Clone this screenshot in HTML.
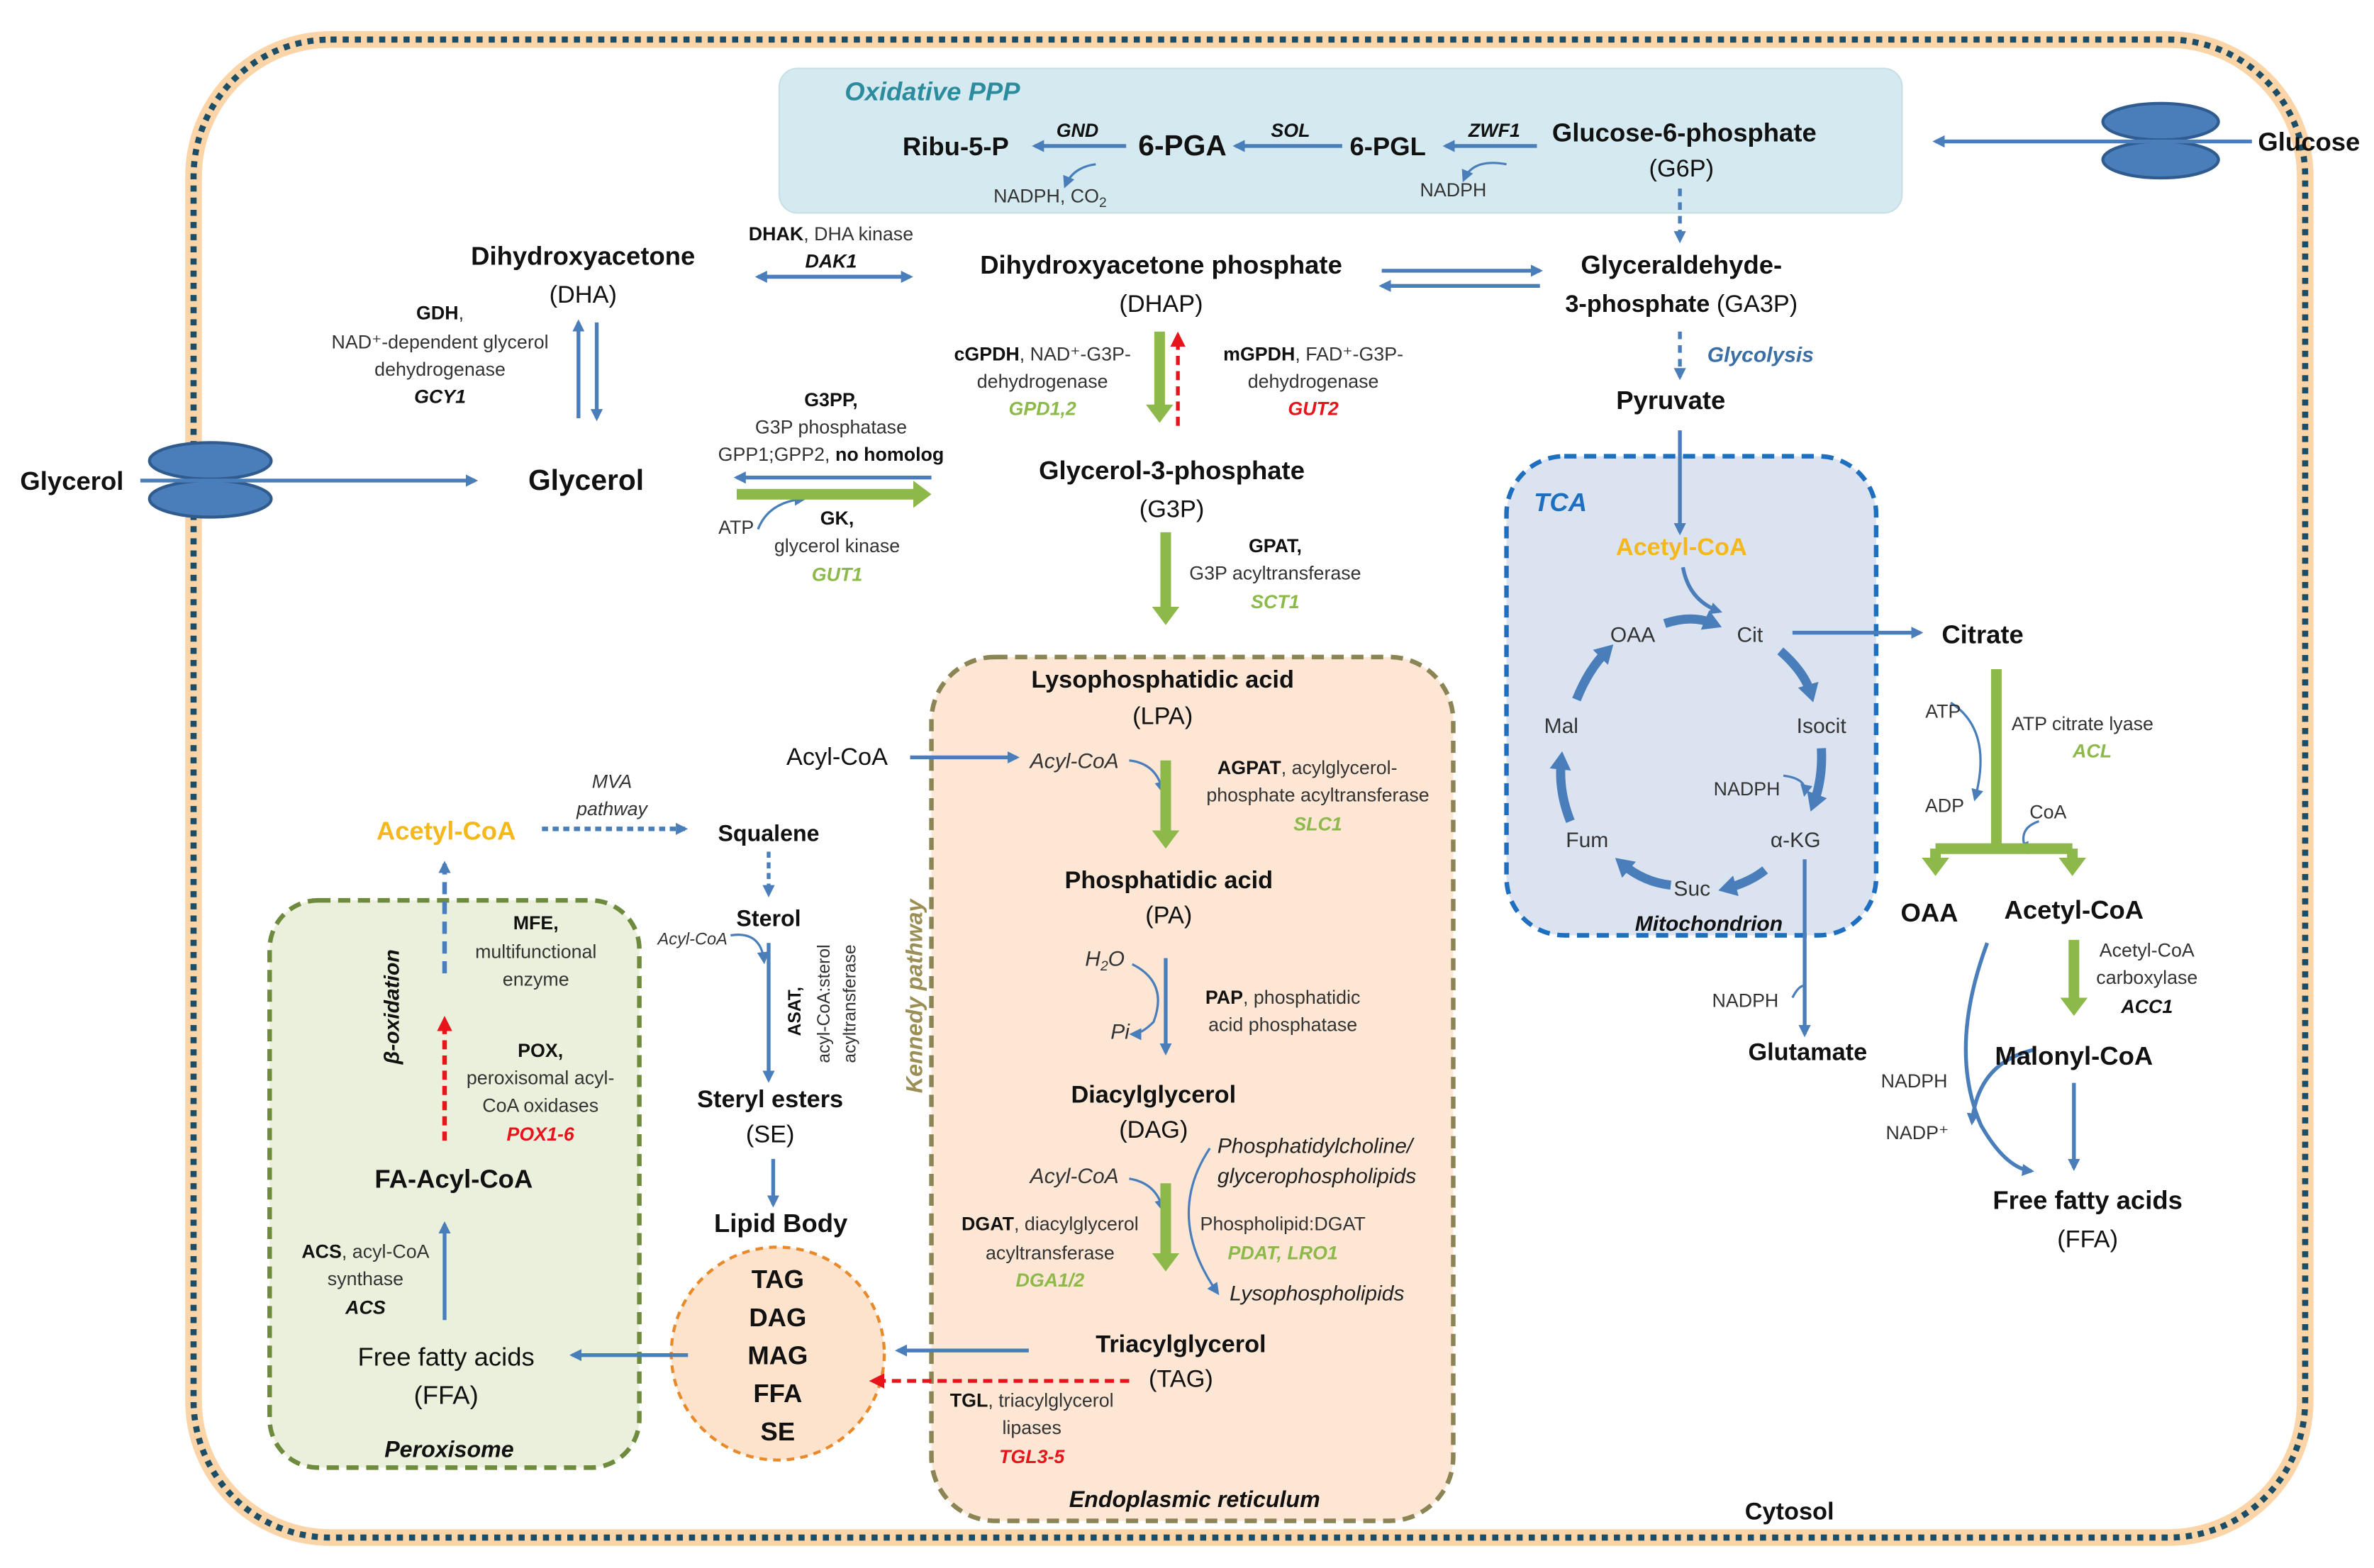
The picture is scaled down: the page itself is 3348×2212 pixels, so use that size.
<!DOCTYPE html>
<html><head><meta charset="utf-8"><style>
html,body{margin:0;padding:0;background:#fff}
svg{display:block}
text{font-family:"Liberation Sans",sans-serif;fill:#111}
.b{font-weight:bold}
.s{font-size:12.5px;fill:#333}
.m{font-size:16px}
.L{font-size:17px;font-weight:bold}
.i{font-style:italic}
.g{fill:#8db94a;font-weight:bold;font-style:italic;font-size:12.5px}
.r{fill:#e8141b;font-weight:bold;font-style:italic;font-size:12.5px}
.y{fill:#f5b81c;font-weight:bold}
</style></head><body>
<svg width="3348" height="2212" viewBox="0 0 1560 1031" xmlns="http://www.w3.org/2000/svg">
<defs>
<marker id="ab" markerWidth="8" markerHeight="8" refX="6" refY="4" orient="auto" markerUnits="userSpaceOnUse"><path d="M0,0 L8,4 L0,8 z" fill="#4a7ebb"/></marker>
<marker id="ag" markerWidth="18" markerHeight="18" refX="6" refY="9" orient="auto" markerUnits="userSpaceOnUse"><path d="M0,0 L12,9 L0,18 z" fill="#8db94a"/></marker>
<marker id="ar" markerWidth="10" markerHeight="10" refX="6" refY="5" orient="auto" markerUnits="userSpaceOnUse"><path d="M0,0 L10,5 L0,10 z" fill="#e8141b"/></marker>
<marker id="abb" markerWidth="14" markerHeight="14" refX="6" refY="7" orient="auto" markerUnits="userSpaceOnUse"><path d="M0,0 L12,7 L0,14 z" fill="#4a7ebb"/></marker>
</defs>
<!-- cell -->
<rect x="127" y="26" width="1388" height="985" rx="90" fill="none" stroke="#fbd5a8" stroke-width="11"/>
<rect x="127" y="26" width="1388" height="985" rx="90" fill="none" stroke="#1b4d66" stroke-width="4" stroke-dasharray="4,4"/>
<!-- boxes -->
<rect x="512" y="45" width="738" height="95" rx="12" fill="#d5eaf0" stroke="#c8dfe6"/>
<rect x="990" y="300" width="243" height="315" rx="38" fill="#dbe3f1" stroke="#1f6fc0" stroke-width="3" stroke-dasharray="8,5"/>
<rect x="612" y="432" width="343" height="568" rx="42" fill="#fde6d4" stroke="#8b8454" stroke-width="3" stroke-dasharray="8,5"/>
<rect x="177" y="592" width="243" height="373" rx="32" fill="#ebf0dc" stroke="#6e8b3d" stroke-width="3" stroke-dasharray="8,5"/>
<circle cx="511" cy="890" r="70" fill="#fde3cc" stroke="#e98a2a" stroke-width="2" stroke-dasharray="5,4"/>
<!-- transporters -->
<ellipse cx="1420" cy="80" rx="38" ry="12" fill="#4a7ebb" stroke="#2f5b8f" stroke-width="2"/>
<ellipse cx="1420" cy="105" rx="38" ry="12" fill="#4a7ebb" stroke="#2f5b8f" stroke-width="2"/>
<ellipse cx="138" cy="303" rx="40" ry="12" fill="#4a7ebb" stroke="#2f5b8f" stroke-width="2"/>
<ellipse cx="138" cy="328" rx="40" ry="12" fill="#4a7ebb" stroke="#2f5b8f" stroke-width="2"/>

<g stroke="#4a7ebb" stroke-width="2.5" fill="none">
<line x1="1480" y1="93" x2="1272" y2="93" marker-end="url(#ab)"/>
<line x1="92" y1="316" x2="312" y2="316" marker-end="url(#ab)"/>
<line x1="1010" y1="96" x2="950" y2="96" marker-end="url(#ab)"/>
<line x1="882" y1="96" x2="812" y2="96" marker-end="url(#ab)"/>
<line x1="740" y1="96" x2="680" y2="96" marker-end="url(#ab)"/>
<path d="M990,108 Q968,104 962,118" stroke-width="1.5" marker-end="url(#ab)"/>
<path d="M720,108 Q705,110 700,122" stroke-width="1.5" marker-end="url(#ab)"/>
<line x1="1104" y1="124" x2="1104" y2="158" stroke-dasharray="5,4" marker-end="url(#ab)"/>
<line x1="1104" y1="218" x2="1104" y2="248" stroke-dasharray="5,4" marker-end="url(#ab)"/>
<line x1="1104" y1="283" x2="1104" y2="350" marker-end="url(#ab)"/>
<line x1="498" y1="182" x2="598" y2="182" marker-end="url(#ab)"/>
<line x1="598" y1="182" x2="498" y2="182" marker-end="url(#ab)"/>
<line x1="908" y1="178" x2="1012" y2="178" marker-end="url(#ab)"/>
<line x1="1012" y1="188" x2="908" y2="188" marker-end="url(#ab)"/>
<line x1="380" y1="275" x2="380" y2="212" marker-end="url(#ab)"/>
<line x1="392" y1="212" x2="392" y2="275" marker-end="url(#ab)"/>
<line x1="612" y1="314" x2="484" y2="314" marker-end="url(#ab)"/>
<path d="M498,348 Q505,330 528,328" stroke-width="1.5" marker-end="url(#ab)"/>
<!-- TCA -->
<path d="M1106,373 Q1110,395 1130,402" marker-end="url(#ab)"/>
<line x1="1178" y1="416" x2="1262" y2="416" marker-end="url(#ab)"/>
<path d="M1094,410 Q1112,404 1126,410" stroke-width="6" marker-end="url(#abb)"/>
<path d="M1170,428 Q1186,442 1190,456" stroke-width="6" marker-end="url(#abb)"/>
<path d="M1197,492 Q1198,512 1192,528" stroke-width="6" marker-end="url(#abb)"/>
<path d="M1160,572 Q1150,580 1135,584" stroke-width="6" marker-end="url(#abb)"/>
<path d="M1098,582 Q1080,580 1066,568" stroke-width="6" marker-end="url(#abb)"/>
<path d="M1032,540 Q1024,520 1026,500" stroke-width="6" marker-end="url(#abb)"/>
<path d="M1036,460 Q1044,440 1056,428" stroke-width="6" marker-end="url(#abb)"/>
<path d="M1172,510 Q1188,512 1186,522" stroke-width="1.5" marker-end="url(#ab)"/>
<line x1="1186" y1="565" x2="1186" y2="680" marker-end="url(#ab)"/>
<path d="M1178,656 Q1182,648 1186,648" stroke-width="1.5"/>
<path d="M1282,462 Q1310,480 1298,525" stroke-width="1.5" marker-end="url(#ab)"/>
<path d="M1340,540 Q1325,545 1332,560" stroke-width="1.5" marker-end="url(#ab)"/>
<line x1="1363" y1="712" x2="1363" y2="768" marker-end="url(#ab)"/>
<path d="M1306,620 Q1280,690 1302,740 Q1318,768 1335,770" marker-end="url(#ab)"/>
<path d="M1338,690 Q1300,698 1296,738" marker-end="url(#ab)"/>
<!-- ER -->
<line x1="598" y1="498" x2="668" y2="498" marker-end="url(#ab)"/>
<path d="M742,500 Q760,502 764,520" stroke-width="1.5" marker-end="url(#ab)"/>
<line x1="766" y1="630" x2="766" y2="692" marker-end="url(#ab)"/>
<path d="M744,634 Q768,646 758,672 Q750,680 744,680" stroke-width="1.5" marker-end="url(#ab)"/>
<path d="M742,775 Q760,778 764,795" stroke-width="1.5" marker-end="url(#ab)"/>
<path d="M795,755 Q765,800 800,850" stroke-width="1.5" marker-end="url(#ab)"/>
<line x1="676" y1="888" x2="590" y2="888" marker-end="url(#ab)"/>
<!-- sterol path -->
<line x1="505" y1="560" x2="505" y2="588" stroke-dasharray="4,3" marker-end="url(#ab)"/>
<line x1="505" y1="620" x2="505" y2="710" marker-end="url(#ab)"/>
<path d="M480,615 Q500,612 502,632" stroke-width="1.5" marker-end="url(#ab)"/>
<line x1="508" y1="762" x2="508" y2="792" marker-end="url(#ab)"/>
<line x1="356" y1="545" x2="450" y2="545" stroke-dasharray="4,3" stroke-width="3" marker-end="url(#ab)"/>
<!-- peroxisome -->
<line x1="292" y1="640" x2="292" y2="568" stroke-dasharray="8,5" stroke-width="3" marker-end="url(#ab)"/>
<line x1="292" y1="868" x2="292" y2="805" marker-end="url(#ab)"/>
<line x1="452" y1="891" x2="376" y2="891" marker-end="url(#ab)"/>
</g>
<!-- green thick arrows -->
<g stroke="#8db94a" stroke-width="7" fill="none">
<line x1="484" y1="325" x2="606" y2="325" marker-end="url(#ag)"/>
<line x1="762" y1="218" x2="762" y2="272" marker-end="url(#ag)"/>
<line x1="766" y1="350" x2="766" y2="405" marker-end="url(#ag)"/>
<line x1="766" y1="500" x2="766" y2="552" marker-end="url(#ag)"/>
<line x1="766" y1="778" x2="766" y2="830" marker-end="url(#ag)"/>
<line x1="1312" y1="440" x2="1312" y2="558"/>
<line x1="1272" y1="558" x2="1362" y2="558"/>
<line x1="1272" y1="558" x2="1272" y2="570" marker-end="url(#ag)"/>
<line x1="1362" y1="558" x2="1362" y2="570" marker-end="url(#ag)"/>
<line x1="1363" y1="618" x2="1363" y2="662" marker-end="url(#ag)"/>
</g>
<!-- red dashed -->
<g stroke="#e8141b" stroke-width="2.5" fill="none" stroke-dasharray="6,4">
<line x1="774" y1="280" x2="774" y2="222" marker-end="url(#ar)"/>
<line x1="292" y1="750" x2="292" y2="672" stroke-width="3" marker-end="url(#ar)"/>
<line x1="742" y1="908" x2="575" y2="908" marker-end="url(#ar)"/>
</g>

<!-- Text -->
<text x="555" y="66" style="font-size:17px;font-weight:bold;font-style:italic;fill:#2c8c9e">Oxidative PPP</text>
<text x="1484" y="99" class="L">Glucose</text>
<text x="1020" y="93" class="L">Glucose-6-phosphate</text>
<text x="1105" y="116" class="m" text-anchor="middle">(G6P)</text>
<text x="965" y="90" class="b i s" style="fill:#111">ZWF1</text>
<text x="955" y="129" class="s" text-anchor="middle">NADPH</text>
<text x="912" y="102" class="L" text-anchor="middle">6-PGL</text>
<text x="848" y="90" class="b i s" text-anchor="middle" style="fill:#111">SOL</text>
<text x="777" y="102" style="font-size:19px;font-weight:bold" text-anchor="middle">6-PGA</text>
<text x="708" y="90" class="b i s" text-anchor="middle" style="fill:#111">GND</text>
<text x="628" y="102" class="L" text-anchor="middle">Ribu-5-P</text>
<text x="690" y="133" class="s" text-anchor="middle">NADPH, CO<tspan style="font-size:9px" dy="3">2</tspan></text>

<text x="383" y="174" class="L" text-anchor="middle">Dihydroxyacetone</text>
<text x="383" y="199" class="m" text-anchor="middle">(DHA)</text>
<text x="546" y="158" class="s" text-anchor="middle"><tspan class="b" style="fill:#111">DHAK</tspan>, DHA kinase</text>
<text x="546" y="176" class="s b i" text-anchor="middle" style="fill:#111">DAK1</text>
<text x="763" y="180" class="L" text-anchor="middle">Dihydroxyacetone phosphate</text>
<text x="763" y="205" class="m" text-anchor="middle">(DHAP)</text>
<text x="1105" y="180" class="L" text-anchor="middle">Glyceraldehyde-</text>
<text x="1105" y="205" class="m" text-anchor="middle"><tspan class="b">3-phosphate</tspan> (GA3P)</text>
<text x="1122" y="238" style="font-size:14px;font-weight:bold;font-style:italic;fill:#3a6ea5">Glycolysis</text>
<text x="1098" y="269" class="L" text-anchor="middle">Pyruvate</text>

<text x="289" y="210" class="s" text-anchor="middle"><tspan class="b" style="fill:#111">GDH</tspan>,</text>
<text x="289" y="229" class="s" text-anchor="middle">NAD⁺-dependent glycerol</text>
<text x="289" y="247" class="s" text-anchor="middle">dehydrogenase</text>
<text x="289" y="265" class="s b i" text-anchor="middle" style="fill:#111">GCY1</text>
<text x="13" y="322" class="L">Glycerol</text>
<text x="385" y="322" style="font-size:19px;font-weight:bold" text-anchor="middle">Glycerol</text>
<text x="546" y="267" class="s b" text-anchor="middle" style="fill:#111">G3PP,</text>
<text x="546" y="285" class="s" text-anchor="middle">G3P phosphatase</text>
<text x="546" y="303" class="s" text-anchor="middle">GPP1;GPP2, <tspan class="b" style="fill:#111">no homolog</tspan></text>
<text x="472" y="351" class="s">ATP</text>
<text x="550" y="345" class="s b" text-anchor="middle" style="fill:#111">GK,</text>
<text x="550" y="363" class="s" text-anchor="middle">glycerol kinase</text>
<text x="550" y="382" class="g" text-anchor="middle">GUT1</text>

<text x="685" y="237" class="s" text-anchor="middle"><tspan class="b" style="fill:#111">cGPDH</tspan>, NAD⁺-G3P-</text>
<text x="685" y="255" class="s" text-anchor="middle">dehydrogenase</text>
<text x="685" y="273" class="g" text-anchor="middle">GPD1,2</text>
<text x="863" y="237" class="s" text-anchor="middle"><tspan class="b" style="fill:#111">mGPDH</tspan>, FAD⁺-G3P-</text>
<text x="863" y="255" class="s" text-anchor="middle">dehydrogenase</text>
<text x="863" y="273" class="r" text-anchor="middle">GUT2</text>
<text x="770" y="315" class="L" text-anchor="middle">Glycerol-3-phosphate</text>
<text x="770" y="340" class="m" text-anchor="middle">(G3P)</text>
<text x="838" y="363" class="s b" text-anchor="middle" style="fill:#111">GPAT,</text>
<text x="838" y="381" class="s" text-anchor="middle">G3P acyltransferase</text>
<text x="838" y="400" class="g" text-anchor="middle">SCT1</text>

<text x="1008" y="336" style="font-size:17px;font-weight:bold;font-style:italic;fill:#1f6fc0">TCA</text>
<text x="1105" y="365" class="y" style="font-size:16px" text-anchor="middle">Acetyl-CoA</text>
<text x="1073" y="422" class="s" style="font-size:14px" text-anchor="middle">OAA</text>
<text x="1150" y="422" class="s" style="font-size:14px" text-anchor="middle">Cit</text>
<text x="1303" y="423" class="L" text-anchor="middle">Citrate</text>
<text x="1026" y="482" class="s" style="font-size:14px" text-anchor="middle">Mal</text>
<text x="1197" y="482" class="s" style="font-size:14px" text-anchor="middle">Isocit</text>
<text x="1148" y="523" class="s" text-anchor="middle">NADPH</text>
<text x="1043" y="557" class="s" style="font-size:14px" text-anchor="middle">Fum</text>
<text x="1180" y="557" class="s" style="font-size:14px" text-anchor="middle">α-KG</text>
<text x="1112" y="589" class="s" style="font-size:14px" text-anchor="middle">Suc</text>
<text x="1123" y="612" style="font-size:14px;font-weight:bold;font-style:italic" text-anchor="middle">Mitochondrion</text>
<text x="1147" y="662" class="s" text-anchor="middle">NADPH</text>
<text x="1188" y="697" class="m b" text-anchor="middle">Glutamate</text>

<text x="1277" y="472" class="s" text-anchor="middle">ATP</text>
<text x="1322" y="480" class="s">ATP citrate  lyase</text>
<text x="1375" y="498" class="g" text-anchor="middle">ACL</text>
<text x="1278" y="534" class="s" text-anchor="middle">ADP</text>
<text x="1346" y="538" class="s" text-anchor="middle">CoA</text>
<text x="1268" y="606" class="L" text-anchor="middle">OAA</text>
<text x="1363" y="604" class="L" text-anchor="middle">Acetyl-CoA</text>
<text x="1411" y="629" class="s" text-anchor="middle">Acetyl-CoA</text>
<text x="1411" y="647" class="s" text-anchor="middle">carboxylase</text>
<text x="1411" y="666" class="s b i" text-anchor="middle" style="fill:#111">ACC1</text>
<text x="1363" y="700" class="L" text-anchor="middle">Malonyl-CoA</text>
<text x="1258" y="715" class="s" text-anchor="middle">NADPH</text>
<text x="1260" y="749" class="s" text-anchor="middle">NADP⁺</text>
<text x="1372" y="795" class="L" text-anchor="middle">Free fatty acids</text>
<text x="1372" y="820" class="m" text-anchor="middle">(FFA)</text>

<text x="764" y="452" class="m b" text-anchor="middle">Lysophosphatidic acid</text>
<text x="764" y="476" class="m" text-anchor="middle">(LPA)</text>
<text x="550" y="503" class="m" text-anchor="middle">Acyl-CoA</text>
<text x="706" y="505" class="s i" style="font-size:14px" text-anchor="middle">Acyl-CoA</text>
<text x="800" y="509" class="s"><tspan class="b" style="fill:#111">AGPAT</tspan>, acylglycerol-</text>
<text x="866" y="527" class="s" text-anchor="middle">phosphate acyltransferase</text>
<text x="866" y="546" class="g" text-anchor="middle">SLC1</text>
<text x="768" y="584" class="m b" text-anchor="middle">Phosphatidic acid</text>
<text x="768" y="607" class="m" text-anchor="middle">(PA)</text>
<text x="726" y="635" class="s i" style="font-size:14px" text-anchor="middle">H<tspan style="font-size:9px" dy="3">2</tspan><tspan dy="-3">O</tspan></text>
<text x="736" y="683" class="s i" style="font-size:14px" text-anchor="middle">Pi</text>
<text x="843" y="660" class="s" text-anchor="middle"><tspan class="b" style="fill:#111">PAP</tspan>, phosphatidic</text>
<text x="843" y="678" class="s" text-anchor="middle">acid phosphatase</text>
<text x="758" y="725" class="m b" text-anchor="middle">Diacylglycerol</text>
<text x="758" y="748" class="m" text-anchor="middle">(DAG)</text>
<text x="800" y="758" class="s i" style="font-size:14px;fill:#222">Phosphatidylcholine/</text>
<text x="800" y="778" class="s i" style="font-size:14px;fill:#222">glycerophospholipids</text>
<text x="706" y="778" class="s i" style="font-size:14px" text-anchor="middle">Acyl-CoA</text>
<text x="690" y="809" class="s" text-anchor="middle"><tspan class="b" style="fill:#111">DGAT</tspan>, diacylglycerol</text>
<text x="690" y="828" class="s" text-anchor="middle">acyltransferase</text>
<text x="690" y="846" class="g" text-anchor="middle">DGA1/2</text>
<text x="843" y="809" class="s" text-anchor="middle">Phospholipid:DGAT</text>
<text x="843" y="828" class="g" text-anchor="middle">PDAT, LRO1</text>
<text x="808" y="855" class="s i" style="font-size:14px;fill:#222">Lysophospholipids</text>
<text x="776" y="889" class="m b" text-anchor="middle">Triacylglycerol</text>
<text x="776" y="912" class="m" text-anchor="middle">(TAG)</text>
<text x="678" y="925" class="s" text-anchor="middle"><tspan class="b" style="fill:#111">TGL</tspan>, triacylglycerol</text>
<text x="678" y="943" class="s" text-anchor="middle">lipases</text>
<text x="678" y="962" class="r" text-anchor="middle">TGL3-5</text>
<text x="785" y="991" style="font-size:15px;font-weight:bold;font-style:italic" text-anchor="middle">Endoplasmic reticulum</text>
<text x="606" y="655" style="font-size:15px;font-weight:bold;font-style:italic;fill:#9b8f55" text-anchor="middle" transform="rotate(-90 606 655)">Kennedy pathway</text>
<text x="1176" y="999" class="m b" text-anchor="middle">Cytosol</text>

<text x="293" y="552" class="y" style="font-size:17px" text-anchor="middle">Acetyl-CoA</text>
<text x="402" y="518" class="s i" text-anchor="middle">MVA</text>
<text x="402" y="536" class="s i" text-anchor="middle">pathway</text>
<text x="505" y="553" class="m b" style="font-size:15px" text-anchor="middle">Squalene</text>
<text x="505" y="609" class="m b" style="font-size:15px" text-anchor="middle">Sterol</text>
<text x="455" y="621" class="s i" style="font-size:11px" text-anchor="middle">Acyl-CoA</text>
<text x="526" y="665" class="s b" style="font-size:11.5px;fill:#111" text-anchor="middle" transform="rotate(-90 526 665)">ASAT,</text>
<text x="545" y="660" class="s" style="font-size:11.5px" text-anchor="middle" transform="rotate(-90 545 660)">acyl-CoA:sterol</text>
<text x="562" y="660" class="s" style="font-size:11.5px" text-anchor="middle" transform="rotate(-90 562 660)">acyltransferase</text>
<text x="506" y="728" class="m b" text-anchor="middle">Steryl esters</text>
<text x="506" y="751" class="m" text-anchor="middle">(SE)</text>
<text x="513" y="810" class="L" text-anchor="middle">Lipid Body</text>
<text x="511" y="847" class="L" text-anchor="middle">TAG</text><text x="511" y="872" class="L" text-anchor="middle">DAG</text><text x="511" y="897" class="L" text-anchor="middle">MAG</text><text x="511" y="922" class="L" text-anchor="middle">FFA</text><text x="511" y="947" class="L" text-anchor="middle">SE</text>

<text x="352" y="611" class="s b" text-anchor="middle" style="fill:#111">MFE,</text>
<text x="352" y="630" class="s" text-anchor="middle">multifunctional</text>
<text x="352" y="648" class="s" text-anchor="middle">enzyme</text>
<text x="355" y="695" class="s b" text-anchor="middle" style="fill:#111">POX,</text>
<text x="355" y="713" class="s" text-anchor="middle">peroxisomal acyl-</text>
<text x="355" y="731" class="s" text-anchor="middle">CoA oxidases</text>
<text x="355" y="750" class="r" text-anchor="middle">POX1-6</text>
<text x="262" y="662" style="font-size:14px;font-weight:bold;font-style:italic" text-anchor="middle" transform="rotate(-90 262 662)">β-oxidation</text>
<text x="298" y="781" class="L" text-anchor="middle">FA-Acyl-CoA</text>
<text x="240" y="827" class="s" text-anchor="middle"><tspan class="b" style="fill:#111">ACS</tspan>, acyl-CoA</text>
<text x="240" y="845" class="s" text-anchor="middle">synthase</text>
<text x="240" y="864" class="s b i" text-anchor="middle" style="fill:#111">ACS</text>
<text x="293" y="898" class="m" style="font-size:17px" text-anchor="middle">Free fatty acids</text>
<text x="293" y="923" class="m" style="font-size:17px" text-anchor="middle">(FFA)</text>
<text x="295" y="958" style="font-size:15px;font-weight:bold;font-style:italic" text-anchor="middle">Peroxisome</text>
</svg>
</body></html>
